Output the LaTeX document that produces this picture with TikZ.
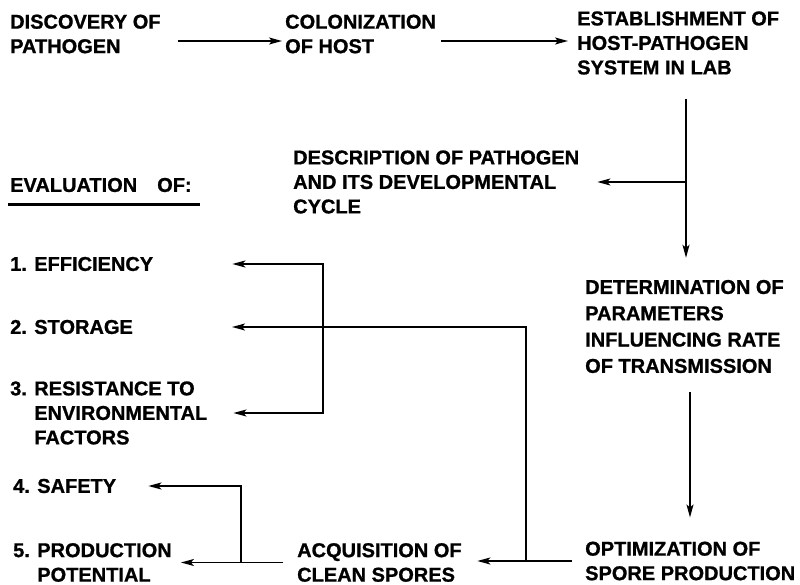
\documentclass[tikz,border=0pt]{standalone}
\usepackage{fontspec}
\setmainfont{Liberation Sans}[BoldFeatures={FakeBold=1}]
\usetikzlibrary{arrows.meta}

\begin{document}
\begin{tikzpicture}[x=1pt, y=-1pt, txt/.style={anchor=west, inner sep=0pt, align=left, font=\fontsize{20}{24.5}\selectfont\bfseries}, n/.style={-{Stealth[length=13pt, width=7pt, inset=3pt]}, line width=1.6pt}, nn/.style={{Stealth[length=13pt, width=7pt, inset=3pt]}-{Stealth[length=13pt, width=7pt, inset=3pt]}, line width=1.6pt}]
            \useasboundingbox (0,0) rectangle (800,585);
            % nodes
            \node[txt] (disc) at (10,34) {DISCOVERY OF\\PATHOGEN};
            \node[txt] (colon) at (285,34) {COLONIZATION\\OF HOST};
            \node[txt] (est) at (577,43) {ESTABLISHMENT OF\\HOST-PATHOGEN\\SYSTEM IN LAB};
            \node[txt] (desc) at (293,182) {DESCRIPTION OF PATHOGEN\\AND ITS DEVELOPMENTAL\\CYCLE};
            \node[txt] (eval) at (10,185) {EVALUATION\hspace{20pt}OF:};
            \node[txt] (eff) at (10,264) {1. EFFICIENCY};
            \node[txt] (stor) at (10,327) {2. STORAGE};
            \node[txt] (res) at (10,413) {3. RESISTANCE TO\\\phantom{3. }ENVIRONMENTAL\\\phantom{3. }FACTORS};
            \node[txt] (safe) at (13,486) {4. SAFETY};
            \node[txt] (prod) at (13,562.5) {5. PRODUCTION\\\phantom{5. }POTENTIAL};
            \node[txt] (acq) at (297,562.5) {ACQUISITION OF\\CLEAN SPORES};
            \node[txt] (opt) at (585,561) {OPTIMIZATION OF\\SPORE PRODUCTION};
            \node[txt, font=\fontsize{20}{26.3}\selectfont\bfseries] (det) at (585,326.5) {DETERMINATION OF\\PARAMETERS\\INFLUENCING RATE\\OF TRANSMISSION};
            \draw[line width=2.6pt] ([xshift=-2pt, yshift=-12pt]eval.south west) -- ([xshift=8pt, yshift=-12pt]eval.south east);
            % junctions
            \coordinate (j1) at ([xshift=109pt]est.west |- desc.east);
            \coordinate (j3) at ([xshift=-59pt]opt.west);
            \coordinate (j4) at ([xshift=-56pt]acq.west);
            \coordinate (b1) at ([xshift=26pt]acq.west |- eff.east);
            \coordinate (b2) at ([xshift=26pt]acq.west |- res.east);
            % edges
            \draw[n, shorten <=17pt, shorten >=3pt] ([yshift=-7pt]disc.east) -- ([yshift=-7pt]disc.east -| colon.west);
            \draw[n, shorten <=5pt, shorten >=9pt] ([yshift=-7pt]colon.east) -- ([yshift=-7pt]colon.east -| est.west);
            \draw[n, shorten <=24pt, shorten >=22pt] (est.south -| j1) -- (det.north -| j1);
            \draw[n, shorten >=18pt] (j1) -- (desc.east);
            \draw[n, shorten <=19pt, shorten >=24pt] ([xshift=105pt]det.south west) -- ([xshift=105pt]opt.north west);
            \draw[n, shorten <=13pt, shorten >=15.5pt] (opt.west) -- (opt.west -| acq.east);
            \draw[n, shorten >=99pt] (j3) |- (stor.east);
            \draw[nn, shorten <=79pt, shorten >=26pt] (eff.east) -- (b1) -- (b2) -- (res.east);
            \draw[n, shorten <=14pt, shorten >=9pt] (acq.west) -- (acq.west -| prod.east);
            \draw[n, shorten >=32pt] (j4) |- (safe.east);
        \end{tikzpicture}
\end{document}
